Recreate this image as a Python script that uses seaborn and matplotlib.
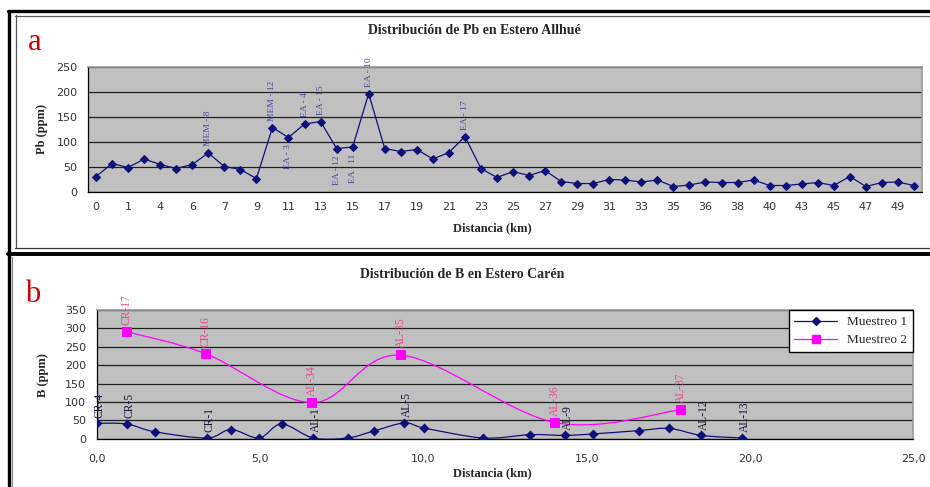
import numpy as np
import matplotlib
matplotlib.use("Agg")
import matplotlib.pyplot as plt
import seaborn as sns
from matplotlib.lines import Line2D
from matplotlib.path import Path
from matplotlib.patches import PathPatch

# Panel a: Pb en Estero Allhué (eje de categorias)
pb_values = [31, 57, 49, 66, 55, 47, 55, 78, 51, 45, 27, 129, 109, 136, 141, 87,
             90, 197, 87, 81, 85, 66, 79, 111, 47, 29, 41, 33, 43, 21, 17, 17,
             25, 24, 20, 24, 11, 14, 20, 19, 19, 24, 13, 13, 16, 19, 13, 31,
             11, 19, 20, 13]
pb_tick_labels = ["0", "1", "4", "6", "7", "9", "11", "13", "15", "17", "19", "21",
                  "23", "25", "27", "29", "31", "33", "35", "36", "38", "40", "43",
                  "45", "47", "49"]
pb_point_labels = {7: "MEM - 8", 11: "MEM - 12", 12: "EA - 3", 13: "EA - 4",
                   14: "EA - 15", 15: "EA - 12", 16: "EA - 11", 17: "EA - 10",
                   23: "EA - 17"}
pb_labels_below = [12, 15, 16]

# Panel b: B en Estero Carén
m1_km = [0.0, 0.92, 1.77, 3.37, 4.11, 4.97, 5.66, 6.63, 7.68, 8.49, 9.42, 10.03,
         11.83, 13.28, 14.34, 15.2, 16.59, 17.53, 18.51, 19.75]
m1_b = [42, 40, 19, 2, 25, 2, 40, 2, 2, 21, 43, 29, 2, 11, 9, 13, 22, 28, 9, 2]
m1_labels = ["CR-4", "CR-5", "", "CR-1", "", "", "", "AL-1", "", "", "AL-5", "",
             "", "", "AL-9", "", "", "", "AL-12", "AL-13"]
m2_km = [0.92, 3.34, 6.6, 9.32, 14.03, 17.89]
m2_b = [291, 231, 98, 227, 44, 79]
m2_labels = ["CR-17", "CR-16", "AL-34", "AL-35", "AL-36", "AL-37"]

W, H = 930, 487
SERIF = ["Liberation Serif", "DejaVu Serif"]
NAVY = "#10107a"
MAGENTA = "#ff00ff"
GRAYBG = "#c0c0c0"


def fx(x):
    return x / W


def fy(y):
    return 1 - y / H


def smooth_path(xs, ys):
    # curva suavizada tipo Excel (Catmull-Rom -> Bezier)
    pts = np.column_stack([xs, ys]).astype(float)
    verts = [pts[0]]
    codes = [Path.MOVETO]
    n = len(pts)
    for i in range(n - 1):
        p0 = pts[i - 1] if i > 0 else pts[i]
        p1 = pts[i]
        p2 = pts[i + 1]
        p3 = pts[i + 2] if i + 2 < n else pts[i + 1]
        c1 = p1 + (p2 - p0) / 6
        c2 = p2 - (p3 - p1) / 6
        verts += [c1, c2, p2]
        codes += [Path.CURVE4] * 3
    return Path(verts, codes)


def style_axes(ax):
    ax.set_facecolor(GRAYBG)
    for s in ["top", "right"]:
        ax.spines[s].set_color("#9a9a9a")
        ax.spines[s].set_linewidth(1.2)
    for s in ["left", "bottom"]:
        ax.spines[s].set_color("black")
        ax.spines[s].set_linewidth(0.9)
    ax.yaxis.grid(True, color="#202020", linewidth=0.9)
    ax.set_axisbelow(True)
    ax.tick_params(axis="both", direction="out", length=4, width=0.9,
                   labelsize=8, labelcolor="#333333", color="black")
    for lab in ax.get_yticklabels() + ax.get_xticklabels():
        lab.set_fontfamily("DejaVu Sans")


sns.set_style("white")
plt.rcParams["font.family"] = ["DejaVu Sans"]

fig = plt.figure(figsize=(W / 100, H / 100), dpi=100)

# ---------- panel a ----------
ax1 = fig.add_axes([fx(88), fy(192), (922 - 88) / W, 125 / H])
idx = np.arange(len(pb_values))
sns.lineplot(x=idx, y=pb_values, ax=ax1, color=NAVY, linewidth=0.9,
             marker="D", markersize=4.5, markeredgecolor=NAVY, markerfacecolor=NAVY)
ax1.set_xlim(-0.5, len(pb_values) - 0.5)
ax1.set_ylim(0, 250)
ax1.set_yticks(range(0, 251, 50))
ax1.set_xticks(idx[::2])
ax1.set_xticklabels(pb_tick_labels)
ax1.set_xticks(np.arange(-0.5, len(pb_values), 1), minor=True)
style_axes(ax1)
ax1.tick_params(axis="x", which="major", length=0, pad=7)
ax1.tick_params(axis="x", which="minor", length=4, width=0.9, direction="out")
ax1.set_xlabel("")
ax1.set_ylabel("")

for i, txt in pb_point_labels.items():
    below = i in pb_labels_below
    ax1.annotate(txt, (i, pb_values[i]), xytext=(0, -5 if below else 5),
                 textcoords="offset points", rotation=90, ha="center",
                 va="top" if below else "bottom", fontsize=6.8, color="#4646a0",
                 family=SERIF, annotation_clip=False)

# ---------- panel b ----------
ax2 = fig.add_axes([fx(96.7), fy(438.7), (913.3 - 96.7) / W, 128.7 / H])
ax2.add_patch(PathPatch(smooth_path(m2_km, m2_b), facecolor="none",
                        edgecolor=MAGENTA, linewidth=0.9, zorder=3))
ax2.add_patch(PathPatch(smooth_path(m1_km, m1_b), facecolor="none",
                        edgecolor=NAVY, linewidth=0.9, zorder=3))
sns.scatterplot(x=m1_km, y=m1_b, ax=ax2, marker="D", s=26, color=NAVY,
                edgecolor=NAVY, linewidth=0, zorder=4)
sns.scatterplot(x=m2_km, y=m2_b, ax=ax2, marker="s", s=42, color=MAGENTA,
                edgecolor=MAGENTA, linewidth=0, zorder=4)
ax2.set_xlim(0, 25)
ax2.set_ylim(0, 350)
ax2.set_yticks(range(0, 351, 50))
ax2.set_xticks(range(0, 26, 5))
ax2.set_xticklabels([f"{v:.1f}".replace(".", ",") for v in range(0, 26, 5)])
style_axes(ax2)
ax2.tick_params(axis="x", pad=7)
ax2.set_xlabel("")
ax2.set_ylabel("")

for x, y, txt in zip(m1_km, m1_b, m1_labels):
    if txt:
        ax2.annotate(txt, (x, y), xytext=(2, 4), textcoords="offset points",
                     rotation=90, ha="center", va="bottom", fontsize=8.3,
                     color="#15153a", family=SERIF, annotation_clip=False)
for x, y, txt in zip(m2_km, m2_b, m2_labels):
    ax2.annotate(txt, (x, y), xytext=(0, 5), textcoords="offset points",
                 rotation=90, ha="center", va="bottom", fontsize=8.3,
                 color="#e8478f", family=SERIF, annotation_clip=False)

handles = [Line2D([], [], color=NAVY, marker="D", markersize=4.5, linewidth=0.9),
           Line2D([], [], color=MAGENTA, marker="s", markersize=6, linewidth=0.9)]
leg = ax2.legend(handles, ["Muestreo 1", "Muestreo 2"], loc="upper right",
                 borderaxespad=0, frameon=True, fancybox=False, framealpha=1,
                 edgecolor="black", prop={"family": SERIF, "size": 9.5},
                 handlelength=3.2, borderpad=0.45, labelspacing=0.45)
leg.get_frame().set_linewidth(1.0)

# ---------- textos ----------
fig.text(fx(474), fy(31), "Distribución de Pb en Estero Allhué", ha="center",
         va="center", fontsize=10, fontweight="bold", family=SERIF)
fig.text(fx(462), fy(274), "Distribución de B en Estero Carén", ha="center",
         va="center", fontsize=10, fontweight="bold", family=SERIF)
fig.text(fx(492), fy(228), "Distancia (km)", ha="center", va="center",
         fontsize=9, fontweight="bold", family=SERIF)
fig.text(fx(492), fy(473), "Distancia (km)", ha="center", va="center",
         fontsize=9, fontweight="bold", family=SERIF)
fig.text(fx(42), fy(129), "Pb (ppm)", rotation=90, ha="center", va="center",
         fontsize=9, fontweight="bold", family=SERIF)
fig.text(fx(43), fy(375), "B (ppm)", rotation=90, ha="center", va="center",
         fontsize=9, fontweight="bold", family=SERIF)
fig.text(fx(35), fy(42), "a", ha="center", va="center", fontsize=22,
         color="#cc0000", family=SERIF)
fig.text(fx(33), fy(294), "b", ha="center", va="center", fontsize=22,
         color="#cc0000", family=SERIF)

# ---------- marcos ----------
def hline(y, x0, x1, lw, c):
    fig.add_artist(Line2D([fx(x0), fx(x1)], [fy(y), fy(y)], lw=lw, color=c))


def vline(x, y0, y1, lw, c):
    fig.add_artist(Line2D([fx(x), fx(x)], [fy(y0), fy(y1)], lw=lw, color=c))


hline(11, 8, W, 2.4, "black")
vline(8.5, 11, H, 2.4, "black")
hline(15.5, 15, W, 0.9, "#555555")
vline(15.5, 15, 248, 0.9, "#555555")
hline(248, 15, W, 0.9, "#333333")
hline(254, 8, W, 2.8, "black")
vline(12, 257, H, 0.9, "#888888")

fig.savefig("out.png", dpi=100)
